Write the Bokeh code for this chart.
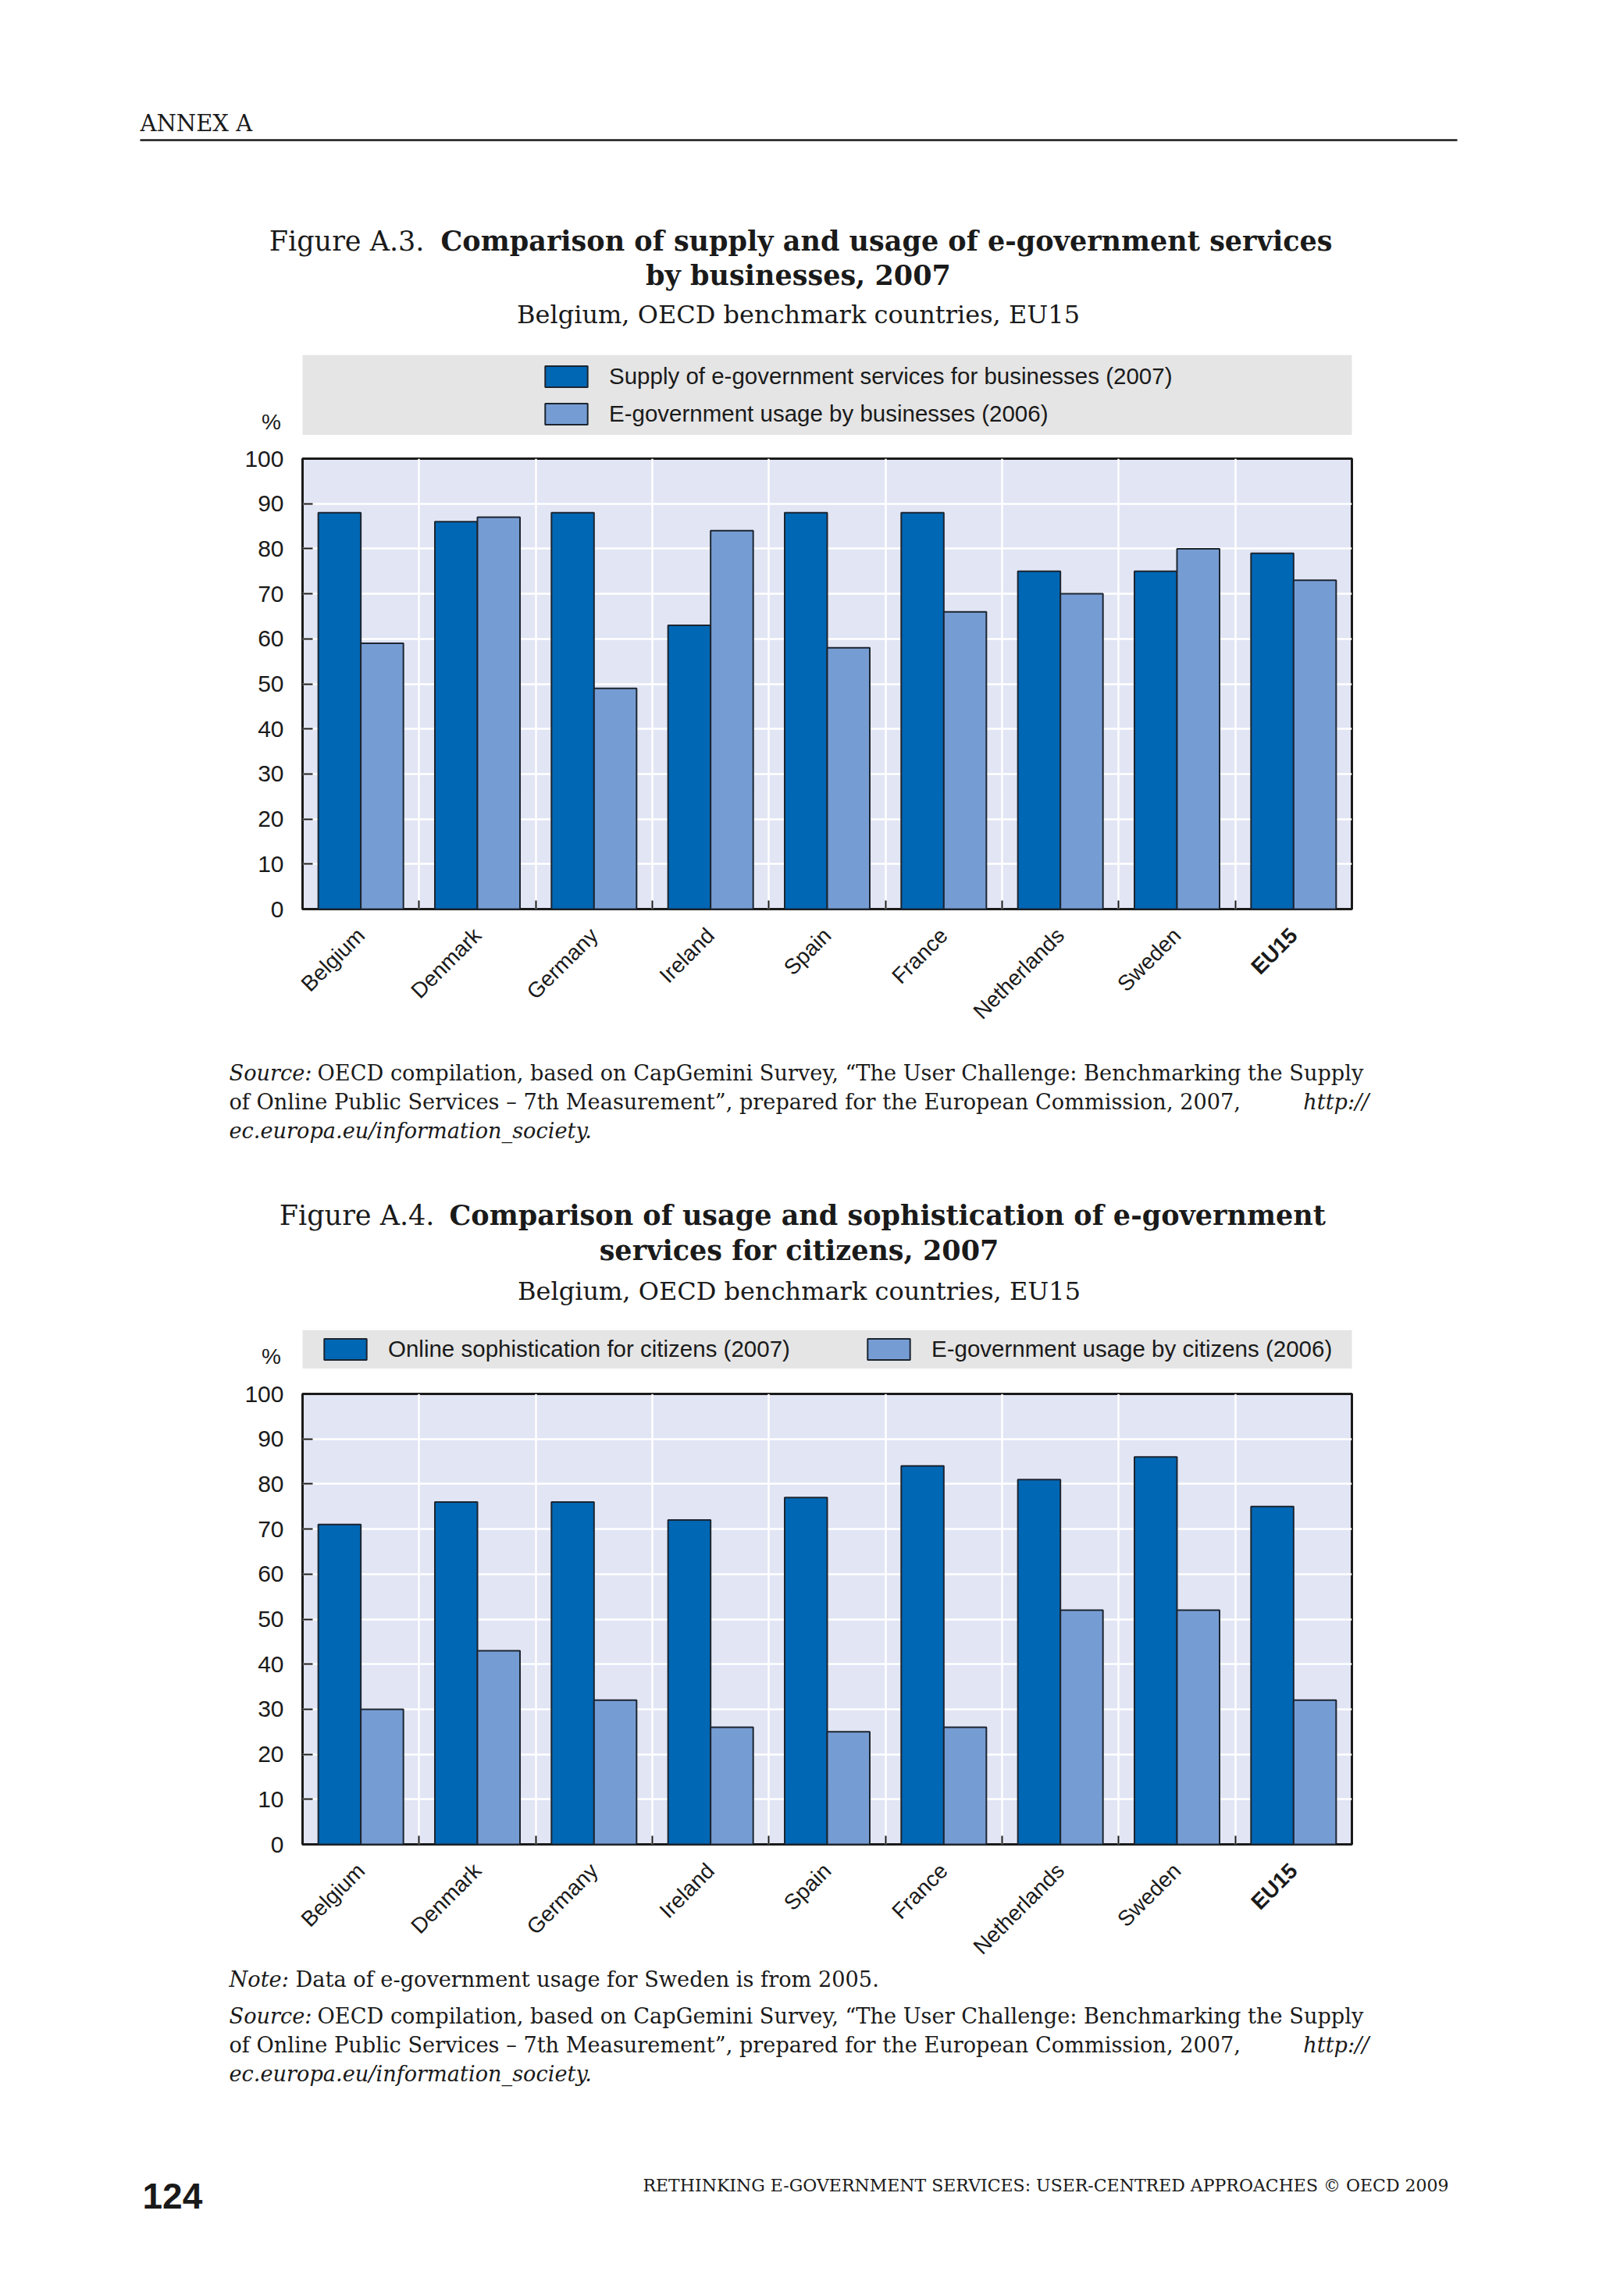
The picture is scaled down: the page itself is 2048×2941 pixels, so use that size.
import math
from bokeh.plotting import figure
from bokeh.models import Range1d, FixedTicker, Legend, LegendItem, ColumnDataSource
from bokeh.transform import dodge
from bokeh.layouts import column
from bokeh.embed import file_html
from bokeh.resources import INLINE
from bokeh.core.properties import value

# ---------------- data ----------------
categories = ["Belgium", "Denmark", "Germany", "Ireland", "Spain", "France",
              "Netherlands", "Sweden", "EU15"]
bold_categories = ["EU15"]
supply_businesses = [88, 86, 88, 63, 88, 88, 75, 75, 79]
usage_businesses = [59, 87, 49, 84, 58, 66, 70, 80, 73]
sophistication_citizens = [71, 76, 76, 72, 77, 84, 81, 86, 75]
usage_citizens = [30, 43, 32, 26, 25, 26, 52, 52, 32]
y_ticks = [0, 10, 20, 30, 40, 50, 60, 70, 80, 90, 100]
series_names_1 = ["Supply of e-government services for businesses (2007)",
                  "E-government usage by businesses (2006)"]
series_names_2 = ["Online sophistication for citizens (2007)",
                  "E-government usage by citizens (2006)"]

# ---------------- style ----------------
W = 2048
DARK = "#0067B4"
LIGHT = "#769DD3"
EDGE = "#1C2530"
PLOT_BG = "#E1E5F4"
BAND = "#E5E5E5"
INK = "#1A1A1A"
SERIF = "DejaVu Serif"
SANS = "Liberation Sans"
BAR_W = 0.365
FRAME_L = 387
FRAME_R = 317
FRAME_H = 577
CHART_BOTTOM = 17
XLAB_STANDOFF = 29
YOFF = 10          # correction: rendered alphabetic baseline sits lower than requested
N = len(categories)
CENTERS = [i + 0.5 for i in range(N)]
BOUNDS = list(range(1, N))


def common(**kw):
    base = dict(output_backend="svg", toolbar_location=None, frame_align=False,
                border_fill_color="white")
    base.update(kw)
    return base


def text_fig(h):
    f = figure(width=W, height=h, x_range=Range1d(0, W), y_range=Range1d(h, 0),
               min_border=0, x_axis_location=None, y_axis_location=None,
               outline_line_color=None, background_fill_color="white", **common())
    f.grid.visible = False
    return f


def put(f, x, y, s, size, style="normal", align="left", font=SERIF):
    f.text(x=[x], y=[y - YOFF], text=[s], text_font=value(font), text_font_size=size,
           text_font_style=style, text_align=align, text_baseline="alphabetic",
           text_color=INK)


def band_fig(h, pct_y):
    f = text_fig(h)
    f.quad(left=[FRAME_L], right=[W - FRAME_R], top=[0], bottom=[h],
           fill_color=BAND, line_color=None)
    put(f, FRAME_L - 40, pct_y, "%", "28px", align="center", font=SANS)
    nan = float("nan")
    r1 = f.vbar(x=[nan], top=[nan], width=1, fill_color=DARK, line_color=EDGE, line_width=2)
    r2 = f.vbar(x=[nan], top=[nan], width=1, fill_color=LIGHT, line_color=EDGE, line_width=2)
    return f, r1, r2


def legend(items, loc, orientation="vertical", spacing=14):
    return Legend(items=items, location=loc, orientation=orientation, padding=0, margin=0,
                  spacing=spacing, glyph_width=68, glyph_height=34, label_standoff=21,
                  label_height=34, label_text_font=SANS, label_text_font_size="29.5px",
                  label_text_color=INK, background_fill_alpha=0, border_line_color=None)


def bar_chart(top, s1, s2):
    p = figure(width=W, height=top + FRAME_H + CHART_BOTTOM,
               x_range=Range1d(0, N), y_range=Range1d(0, 100),
               min_border_left=FRAME_L, min_border_right=FRAME_R,
               min_border_top=top, min_border_bottom=CHART_BOTTOM,
               background_fill_color=PLOT_BG,
               outline_line_color=INK, outline_line_width=3, **common())
    src = ColumnDataSource(dict(x=CENTERS, a=s1, b=s2))
    p.vbar(x=dodge("x", -BAR_W / 2), top="a", bottom=0, width=BAR_W, source=src,
           fill_color=DARK, line_color=EDGE, line_width=2)
    p.vbar(x=dodge("x", BAR_W / 2), top="b", bottom=0, width=BAR_W, source=src,
           fill_color=LIGHT, line_color=EDGE, line_width=2)

    p.xgrid.ticker = FixedTicker(ticks=BOUNDS)
    p.ygrid.ticker = FixedTicker(ticks=y_ticks)
    p.grid.grid_line_color = "white"
    p.grid.grid_line_width = 2.5

    ya = p.yaxis[0]
    ya.ticker = FixedTicker(ticks=y_ticks)
    ya.axis_line_color = None
    ya.major_tick_in = 13
    ya.major_tick_out = 0
    ya.major_tick_line_width = 2
    ya.major_tick_line_color = INK
    ya.minor_tick_line_color = None
    ya.major_label_standoff = 24
    ya.major_label_text_font = SANS
    ya.major_label_text_font_size = "30px"
    ya.major_label_text_color = INK

    # only the short boundary ticks pointing into the frame; names go in the strip below
    xa = p.xaxis[0]
    xa.ticker = FixedTicker(ticks=[], minor_ticks=BOUNDS)
    xa.major_label_standoff = 0
    xa.axis_line_color = None
    xa.major_tick_line_color = None
    xa.major_tick_out = 0
    xa.minor_tick_in = 11
    xa.minor_tick_out = 0
    xa.minor_tick_line_width = 2
    xa.minor_tick_line_color = INK
    return p


def label_strip(h):
    # same x mapping as the chart frame, extended over the full page width
    per_px = N / (W - FRAME_L - FRAME_R)
    f = figure(width=W, height=h, x_range=Range1d(-FRAME_L * per_px, N + FRAME_R * per_px),
               y_range=Range1d(h, 0), min_border=0, x_axis_location=None,
               y_axis_location=None, outline_line_color=None,
               background_fill_color="white", **common())
    f.grid.visible = False
    src = ColumnDataSource(dict(
        x=CENTERS, name=categories,
        style=["bold" if c in bold_categories else "normal" for c in categories]))
    f.text(x="x", y=XLAB_STANDOFF - CHART_BOTTOM, text="name", source=src, angle=math.pi / 4,
           text_align="right", text_baseline="middle", text_font=value(SANS),
           text_font_size="28px", text_font_style="style", text_color=INK)
    return f


SRC1 = "OECD compilation, based on CapGemini Survey, \u201cThe User Challenge: Benchmarking the Supply"
SRC2 = "of Online Public Services \u2013 7th Measurement\u201d, prepared for the European Commission, 2007,"
SRC3 = "ec.europa.eu/information_society."
BODY = "27.2px"


def source_block(f, y0, dy):
    put(f, 293, y0, "Source:", BODY, "italic")
    put(f, 406, y0, SRC1, BODY)
    put(f, 293, y0 + dy, SRC2, BODY)
    put(f, 1753, y0 + dy, "http://", BODY, "italic", "right")
    put(f, 293, y0 + 2 * dy, SRC3, BODY, "italic")


# ---------------- section A : header + title 1 (page y 0-454) ----------------
A = text_fig(454)
put(A, 179, 167, "ANNEX A", "29px")
A.segment(x0=[179], y0=[179], x1=[1866], y1=[179], line_color=INK, line_width=2.5)
put(A, 543, 318, "Figure A.3.", "35px", align="right")
put(A, 564, 318, "Comparison of supply and usage of e-government services", "35px", "bold")
put(A, 1022, 362, "by businesses, 2007", "35px", "bold", "center")
put(A, 1022, 412, "Belgium, OECD benchmark countries, EU15", "32px", align="center")

# ---------------- section B : legend band 1 (454-557) ----------------
B, b1, b2 = band_fig(103, 96)
B.add_layout(legend([LegendItem(label=series_names_1[0], renderers=[b1]),
                     LegendItem(label=series_names_1[1], renderers=[b2])], (691, 10)))

# ---------------- section C : chart 1 (557-1181) + labels (1181-1340) ----------------
C = bar_chart(30, supply_businesses, usage_businesses)
CL = label_strip(159)

# ---------------- section D : source 1 + title 2 (1340-1703) ----------------
D = text_fig(363)
source_block(D, 44, 37)
put(D, 556, 226, "Figure A.4.", "35px", align="right")
put(D, 575, 226, "Comparison of usage and sophistication of e-government", "35px", "bold")
put(D, 1023, 271, "services for citizens, 2007", "35px", "bold", "center")
put(D, 1023, 323, "Belgium, OECD benchmark countries, EU15", "32px", align="center")

# ---------------- section E : legend band 2 (1703-1753) ----------------
E, e1, e2 = band_fig(50, 44)
E.add_layout(legend([LegendItem(label=series_names_2[0], renderers=[e1])], (408, 8), "horizontal"))
E.add_layout(legend([LegendItem(label=series_names_2[1], renderers=[e2])], (1104, 8), "horizontal"))

# ---------------- section F : chart 2 (1753-2379) + labels (2379-2515) ----------------
F = bar_chart(32, sophistication_citizens, usage_citizens)
FL = label_strip(136)

# ---------------- section G : note, source 2, footer (2515-2935) ----------------
G = text_fig(420)
put(G, 293, 30, "Note:", BODY, "italic")
put(G, 378, 30, "Data of e-government usage for Sweden is from 2005.", BODY)
source_block(G, 77, 37)
put(G, 182, 307, "124", "46px", "bold", font=SANS)
put(G, 1855, 294, "RETHINKING E-GOVERNMENT SERVICES: USER-CENTRED APPROACHES \u00a9 OECD 2009",
    "22px", align="right")

page = column(A, B, C, CL, D, E, F, FL, G, spacing=0)
open("out.html", "w").write(file_html(page, INLINE))
